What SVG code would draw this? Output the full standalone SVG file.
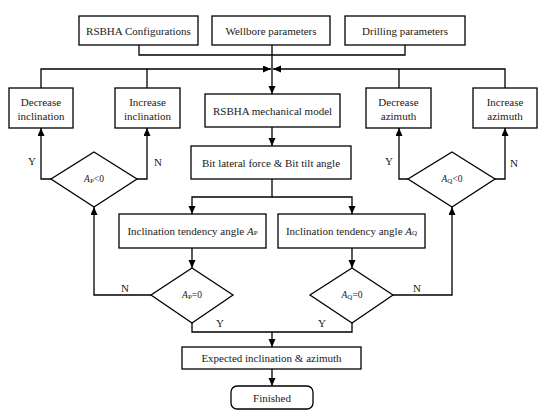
<svg xmlns="http://www.w3.org/2000/svg" width="550" height="417" viewBox="0 0 550 417">
<defs>
<marker id="arr" markerUnits="userSpaceOnUse" markerWidth="9" markerHeight="8" refX="8" refY="3.5" orient="auto">
<path d="M0,0 L8,3.5 L0,7 z" fill="#000"/>
</marker>
<style>
.box{fill:#fff;stroke:#000;stroke-width:1.3}
.ln{fill:none;stroke:#000;stroke-width:1.3}
.ar{fill:none;stroke:#000;stroke-width:1.3;marker-end:url(#arr)}
text{font-family:"Liberation Serif","Times New Roman",serif;font-size:11px;fill:#1a1a1a;text-anchor:middle;dominant-baseline:central}
.sm{font-size:9.5px}
.it{font-style:italic}
.sub{font-size:7px}
</style>
</defs>
<rect width="550" height="417" fill="#fff"/>
<g id="connectors">
<polyline class="ln" points="139,45 139,55 272,55"/>
<polyline class="ln" points="405,45 405,55 272,55"/>
<line class="ar" x1="272" y1="45" x2="272" y2="94"/>
<polyline class="ar" points="41,88 41,69 271,69"/>
<line class="ln" x1="147" y1="88" x2="147" y2="69"/>
<polyline class="ar" points="505,88 505,69 273,69"/>
<line class="ln" x1="399" y1="88" x2="399" y2="69"/>
<line class="ar" x1="272" y1="127" x2="272" y2="146"/>
<polyline class="ar" points="272,179 272,197 192,197 192,214"/>
<polyline class="ar" points="272,197 352,197 352,214"/>
<line class="ar" x1="192" y1="248" x2="192" y2="268"/>
<line class="ar" x1="352" y1="248" x2="352" y2="268"/>
<polyline class="ar" points="51,179 41,179 41,128"/>
<polyline class="ar" points="137,179 147,179 147,128"/>
<polyline class="ar" points="408,179 399,179 399,128"/>
<polyline class="ar" points="495,179 505,179 505,128"/>
<polyline class="ar" points="151,295 94,295 94,207"/>
<polyline class="ar" points="393,295 452,295 452,207"/>
<polyline class="ln" points="192,323 192,332 272,332"/>
<polyline class="ln" points="352,323 352,332 272,332"/>
<line class="ar" x1="272" y1="332" x2="272" y2="347"/>
<line class="ar" x1="272" y1="369" x2="272" y2="386"/>
<text x="32" y="161">Y</text>
<text x="158" y="162">N</text>
<text x="389" y="161">Y</text>
<text x="514" y="163">N</text>
<text x="125" y="288">N</text>
<text x="220" y="323">Y</text>
<text x="322" y="323">Y</text>
<text x="417" y="288">N</text>
</g>
<g id="rsbha-config"><rect class="box" x="79" y="16" width="119" height="29"/><text x="138.5" y="30.5">RSBHA Configurations</text></g>
<g id="wellbore"><rect class="box" x="212" y="16" width="118" height="29"/><text x="271" y="30.5">Wellbore parameters</text></g>
<g id="drilling"><rect class="box" x="345" y="16" width="120" height="29"/><text x="405" y="30.5">Drilling parameters</text></g>
<g id="dec-incl"><rect class="box" x="9" y="88" width="64" height="40"/><text x="41" y="102">Decrease</text><text x="41" y="116">inclination</text></g>
<g id="inc-incl"><rect class="box" x="115" y="88" width="65" height="40"/><text x="147.5" y="102">Increase</text><text x="147.5" y="116">inclination</text></g>
<g id="mech-model"><rect class="box" x="205" y="94" width="135" height="33"/><text x="272.5" y="110.5">RSBHA mechanical model</text></g>
<g id="dec-azi"><rect class="box" x="366" y="88" width="65" height="40"/><text x="398.5" y="102">Decrease</text><text x="398.5" y="116">azimuth</text></g>
<g id="inc-azi"><rect class="box" x="473" y="88" width="64" height="40"/><text x="505" y="102">Increase</text><text x="505" y="116">azimuth</text></g>
<g id="bit-force"><rect class="box" x="191" y="146" width="160" height="33"/><text x="271" y="162.5">Bit lateral force &amp; Bit tilt angle</text></g>
<g id="ap-lt0"><polygon class="box" points="94,152 137,179 94,207 51,179"/><text class="sm" x="94" y="179"><tspan class="it">A</tspan><tspan class="sub" dy="2">P</tspan><tspan dy="-2">&lt;0</tspan></text></g>
<g id="aq-lt0"><polygon class="box" points="452,152 495,179 452,207 408,179"/><text class="sm" x="452" y="179"><tspan class="it">A</tspan><tspan class="sub" dy="2">Q</tspan><tspan dy="-2">&lt;0</tspan></text></g>
<g id="tend-ap"><rect class="box" x="119" y="214" width="147" height="34"/><text x="192.5" y="231">Inclination tendency angle <tspan class="it">A</tspan><tspan class="sub" dy="2">P</tspan></text></g>
<g id="tend-aq"><rect class="box" x="278" y="214" width="147" height="34"/><text x="351.5" y="231">Inclination tendency angle <tspan class="it">A</tspan><tspan class="sub" dy="2">Q</tspan></text></g>
<g id="ap-eq0"><polygon class="box" points="192,268 233,295 192,323 151,295"/><text class="sm" x="192" y="295"><tspan class="it">A</tspan><tspan class="sub" dy="2">P</tspan><tspan dy="-2">=0</tspan></text></g>
<g id="aq-eq0"><polygon class="box" points="352,268 393,295 352,323 310,295"/><text class="sm" x="352" y="295"><tspan class="it">A</tspan><tspan class="sub" dy="2">Q</tspan><tspan dy="-2">=0</tspan></text></g>
<g id="expected"><rect class="box" x="182" y="347" width="179" height="22"/><text x="271.5" y="358">Expected inclination &amp; azimuth</text></g>
<g id="finished"><rect class="box" x="231" y="386" width="82" height="23" rx="6"/><text x="272" y="397.5">Finished</text></g>
</svg>
